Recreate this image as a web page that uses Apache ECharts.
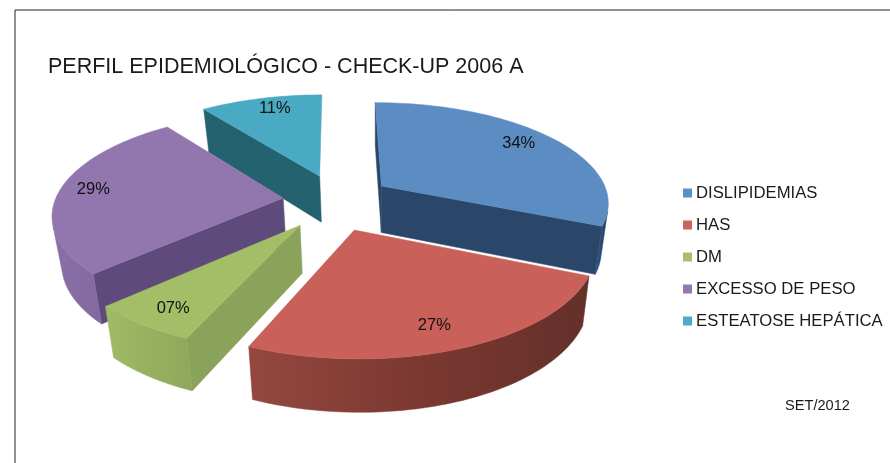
<!DOCTYPE html>
<html>
<head>
<meta charset="utf-8">
<style>html,body{margin:0;padding:0;background:#fff}#chart{width:890px;height:463px}</style>
<script src="https://cdn.jsdelivr.net/npm/echarts@6/dist/echarts.min.js"></script>
</head>
<body>
<div id="chart"></div>
<script>
var categories = ['DISLIPIDEMIAS', 'HAS', 'DM', 'EXCESSO DE PESO', 'ESTEATOSE HEPÁTICA'];
var percentValues = [34, 27, 7, 29, 11];
var percentLabels = ['34%', '27%', '07%', '29%', '11%'];

// how each slice is drawn, same order as categories
var legendColors = ['#5b8fc7', '#cd635d', '#a6c16c', '#9277b0', '#4aacc6'];
var topColors = ['#5b8dc3', '#c9605a', '#a3be67', '#9276ae', '#4aaac4'];
var edgeColors = ['#2a4668', '#6e302a', '#8aa25a', '#5f4a7c', '#24626f'];
var arcStops = [
  ['#2f5580', '#27405f'],
  ['#94483f', '#7b3831', '#64302a'],
  ['#a0ba65', '#8ea75c'],
  ['#8a70a8', '#8468a0'],
  ['#24626f', '#24626f']
];
var explode = [0.26, 0.3, 0.23, 0.22, 0.25];
var sliceShift = [[2, -3], [-3, -2], [0, 3], [2, -3], [6, -4]];
var labelRadius = [0.72, 0.9, 0.85, 0.8, 0.65];
var labelShift = [[13, -7], [-15, -9], [5, 1], [-11, -2], [-5, -15]];
var zOrder = [4, 6, 5, 3, 2];

// fake 3d pie: flat wedges seen through a simple perspective
var cx = 331, cy = 203, R = 228, tilt = 0.4377, persp = 0.15, depth = 47, bottomX = 375, bottomShrink = 0.97;
var total = percentValues.reduce(function (a, b) { return a + b; }, 0);

function project(X, Y, shift) {
  var w = 1 + persp * Y;
  return [cx + X * R / w + shift[0], cy - tilt * Y * R / w + shift[1]];
}
function bottom(X, Y, shift) {
  var p = project(X, Y, shift), w = 1 + persp * Y;
  return [bottomX + (p[0] - bottomX) * bottomShrink, p[1] + depth / Math.pow(w, 0.6)];
}
function area(pts) {
  var s = 0;
  for (var i = 0; i < pts.length; i++) {
    var a = pts[i], b = pts[(i + 1) % pts.length];
    s += a[0] * b[1] - b[0] * a[1];
  }
  return s;
}
function polygon(points, fill) {
  return { type: 'polygon', shape: { points: points }, style: { fill: fill, stroke: fill, lineWidth: 0.5 } };
}

function renderSlice(params, api) {
  var idx = params.seriesIndex;
  var value = api.value(0);
  var shift = sliceShift[idx];
  var before = 0;
  for (var i = 0; i < idx; i++) before += percentValues[i];
  var t0 = before / total * Math.PI * 2;
  var t1 = t0 + value / total * Math.PI * 2;
  var mid = (t0 + t1) / 2;
  var ox = explode[idx] * Math.sin(mid), oy = explode[idx] * Math.cos(mid);
  var at = function (t) { return [ox + Math.sin(t), oy + Math.cos(t)]; };

  var steps = Math.ceil((t1 - t0) / 0.03);
  var topArc = [], botArc = [], frontTop = [], frontBot = [];
  for (var s = 0; s <= steps; s++) {
    var w = at(t0 + (t1 - t0) * s / steps);
    topArc.push(project(w[0], w[1], shift));
    botArc.push(bottom(w[0], w[1], shift));
  }
  for (s = 0; s < steps; s++) {
    if (area([topArc[s], topArc[s + 1], botArc[s + 1], botArc[s]]) < 0) {
      if (!frontTop.length) { frontTop.push(topArc[s]); frontBot.push(botArc[s]); }
      frontTop.push(topArc[s + 1]);
      frontBot.push(botArc[s + 1]);
    }
  }

  var children = [];
  var apexTop = project(ox, oy, shift), apexBot = bottom(ox, oy, shift);
  var startQuad = [apexTop, topArc[0], botArc[0], apexBot];
  var endQuad = [apexTop, topArc[steps], botArc[steps], apexBot];
  if (area(startQuad) < 0) children.push(polygon(startQuad, edgeColors[idx]));
  if (area(endQuad) > 0 && Math.sin(t1) > 0.01) children.push(polygon(endQuad, edgeColors[idx]));
  if (frontTop.length) {
    var stops = arcStops[idx].map(function (c, k, list) {
      return { offset: k / (list.length - 1), color: c };
    });
    children.push(polygon(frontTop.concat(frontBot.slice().reverse()), {
      type: 'linear', x: 0, y: 0, x2: 1, y2: 0, colorStops: stops
    }));
  }
  children.push(polygon([apexTop].concat(topArc), topColors[idx]));

  var lp = project(ox + labelRadius[idx] * Math.sin(mid), oy + labelRadius[idx] * Math.cos(mid), shift);
  children.push({
    type: 'text',
    style: {
      x: lp[0] + labelShift[idx][0], y: lp[1] + labelShift[idx][1], text: percentLabels[idx], fill: '#111',
      font: '16.5px "Liberation Sans"', align: 'center', verticalAlign: 'middle'
    }
  });
  return { type: 'group', children: children };
}

var myChart = echarts.init(document.getElementById('chart'), null, { renderer: 'canvas' });

var option = {
  animation: false,
  backgroundColor: '#fff',
  title: {
    text: 'PERFIL EPIDEMIOLÓGICO - CHECK-UP 2006 A',
    left: 48,
    top: 56,
    padding: 0,
    textStyle: { color: '#1a1a1a', fontFamily: 'Liberation Sans', fontSize: 21.5, fontWeight: 'normal' }
  },
  legend: {
    orient: 'vertical',
    left: 683,
    top: 184,
    padding: 0,
    itemWidth: 9,
    itemHeight: 9,
    itemGap: 14,
    icon: 'rect',
    data: categories,
    textStyle: { color: '#1a1a1a', fontFamily: 'Liberation Sans', fontSize: 16.7, padding: [0, 0, 0, -1], lineHeight: 18 }
  },
  graphic: [
    { type: 'line', shape: { x1: 15, y1: 10, x2: 890, y2: 10 }, style: { stroke: '#222', lineWidth: 1 } },
    { type: 'line', shape: { x1: 15, y1: 10, x2: 15, y2: 463 }, style: { stroke: '#222', lineWidth: 1 } },
    { type: 'text', x: 785, y: 398, style: { text: 'SET/2012', fill: '#1a1a1a', font: '14.6px "Liberation Sans"' } }
  ],
  series: categories.map(function (name, i) {
    return {
      type: 'custom',
      name: name,
      coordinateSystem: 'none',
      z: zOrder[i],
      itemStyle: { color: legendColors[i] },
      renderItem: renderSlice,
      data: [[percentValues[i]]]
    };
  })
};

myChart.setOption(option);
</script>
</body>
</html>
